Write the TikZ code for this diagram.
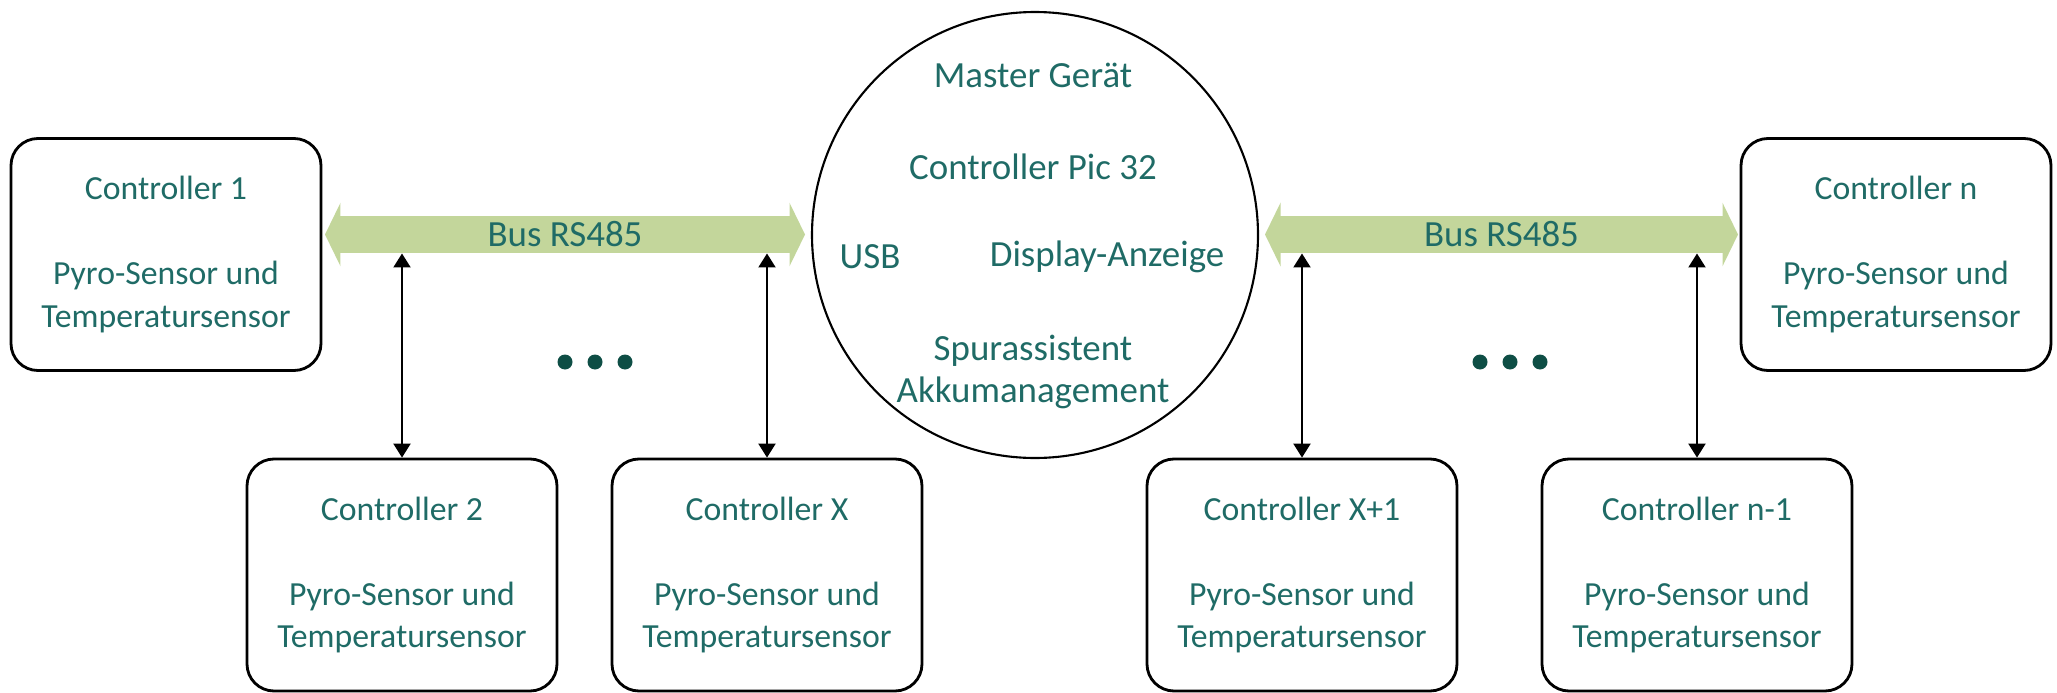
\documentclass[tikz,border=0pt]{standalone}
\usepackage{fontspec}
\setmainfont{Carlito}
\usetikzlibrary{arrows.meta, shapes.arrows, positioning, calc}
\definecolor{busgreen}{HTML}{C3D69B}
\definecolor{labelteal}{HTML}{1F6B66}
\definecolor{dotteal}{HTML}{0E4E45}
\tikzset{
  ctrlbox/.style={
    rectangle, draw=black, line width=0.8pt, rounded corners=2.7mm,
    minimum width=31mm, minimum height=23.2mm, align=center,
    text=labelteal, font=\fontsize{9.6}{12}\selectfont
  },
  masterdev/.style={circle, draw=black, line width=0.6pt, minimum size=44.6mm, inner sep=0pt},
  mlabel/.style={text=labelteal, font=\fontsize{10.5}{11.8}\selectfont, align=center, inner sep=0pt},
  busarrow/.style={
    double arrow, fill=busgreen, draw=none, minimum width=6.2mm,
    double arrow head extend=1.35mm, double arrow tip angle=128,
    inner xsep=0pt, inner ysep=1.6pt, text height=6.8pt, text depth=0pt,
    text=labelteal, font=\fontsize{10.5}{12}\selectfont
  },
  busline/.style={{Triangle[length=1.4mm,width=1.7mm]}-{Triangle[length=1.4mm,width=1.7mm]}, line width=0.6pt}
}

\begin{document}
\begin{tikzpicture}
    \useasboundingbox (0,0) rectangle (20.57,6.92);
    % master device
    \node[masterdev] (master) at (10.35,4.57) {};
    \node[mlabel] (mtitle) at (10.33,6.17) {Master Gerät};
    \node[mlabel] (mpic) at (10.33,5.25) {Controller Pic 32};
    \node[mlabel] (musb) at (8.70,4.35) {USB};
    \node[mlabel] (mdisp) at (11.07,4.35) {Display-Anzeige};
    \node[mlabel] (mspur) at (10.33,3.20) {Spurassistent\\Akkumanagement};
    % controllers at the bus ends
    \node[ctrlbox] (c1) at (1.66,4.375) {Controller 1\\[12.2pt]Pyro-Sensor und\\Temperatursensor};
    \node[ctrlbox] (cn) at (18.96,4.375) {Controller n\\[12.2pt]Pyro-Sensor und\\Temperatursensor};
    % bus lines
    \node[busarrow, minimum height=48mm] (busL) at (5.65,4.575) {Bus RS485};
    \node[busarrow, minimum height=47.3mm] (busR) at (15.015,4.575) {Bus RS485};
    % lower controllers
    \node[ctrlbox] (c2) at (4.02,1.17) {Controller 2\\[12.2pt]Pyro-Sensor und\\Temperatursensor};
    \node[ctrlbox] (cx) at (7.67,1.17) {Controller X\\[12.2pt]Pyro-Sensor und\\Temperatursensor};
    \node[ctrlbox] (cx1) at (13.02,1.17) {Controller X+1\\[12.2pt]Pyro-Sensor und\\Temperatursensor};
    \node[ctrlbox] (cn1) at (16.97,1.17) {Controller n-1\\[12.2pt]Pyro-Sensor und\\Temperatursensor};
    \draw[busline] (c2.north) -- (c2.north |- busL.south);
    \draw[busline] (cx.north) -- (cx.north |- busL.south);
    \draw[busline] (cx1.north) -- (cx1.north |- busR.south);
    \draw[busline] (cn1.north) -- (cn1.north |- busR.south);
    % dots
    \coordinate (dotsL) at (5.95,3.30);
    \coordinate (dotsR) at (15.10,3.30);
    \foreach \d in {dotsL,dotsR}
      \foreach \dx in {-3,0,3}
        \fill[dotteal] ($(\d)+(\dx mm,0)$) circle (0.75mm);
\end{tikzpicture}
\end{document}
